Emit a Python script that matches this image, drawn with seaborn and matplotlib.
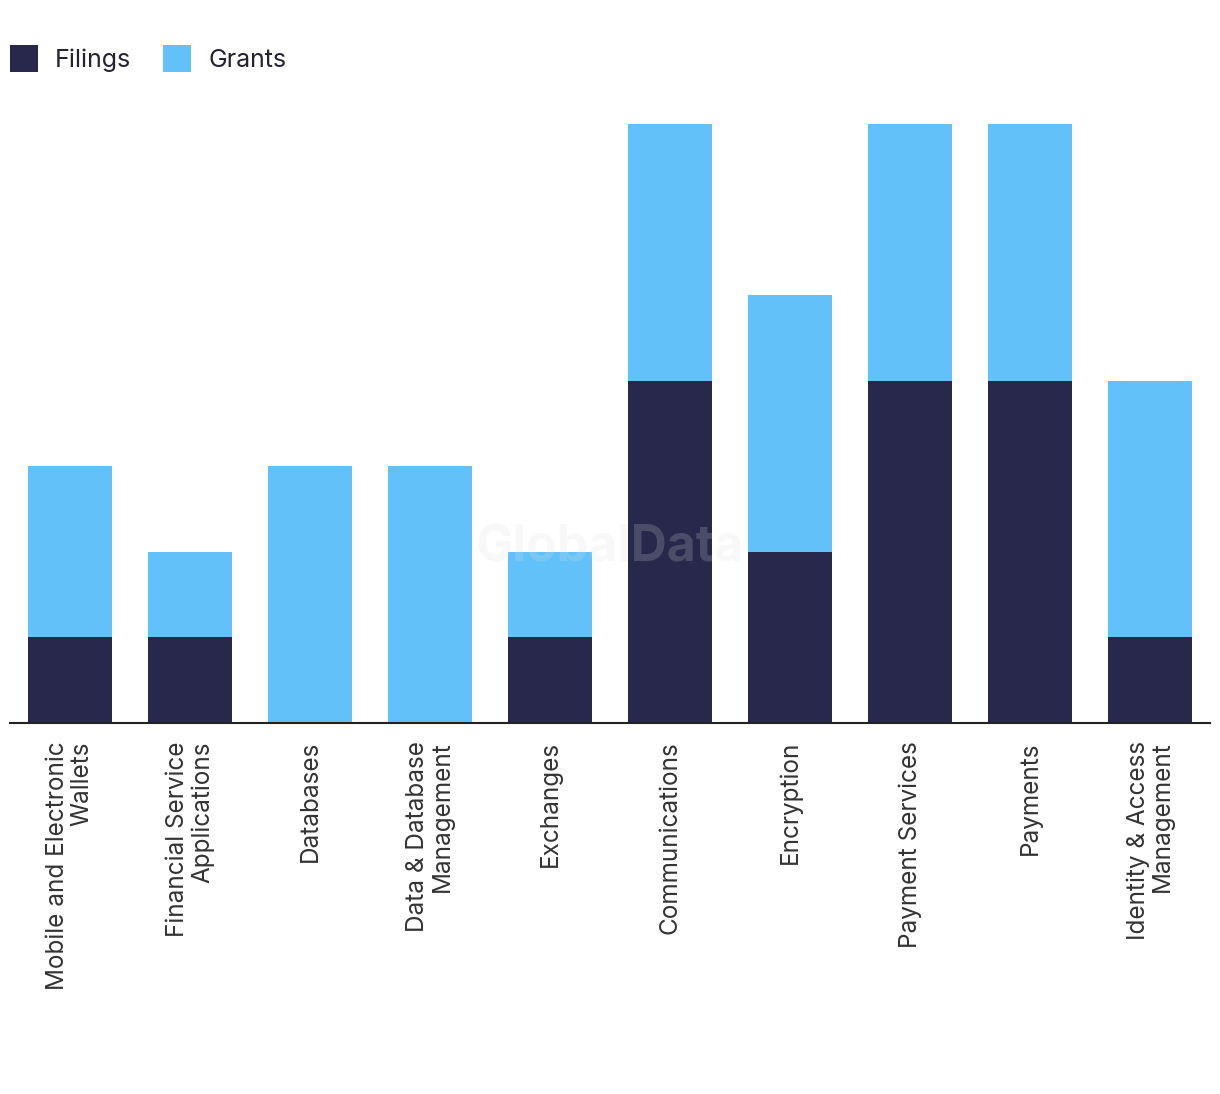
import matplotlib
matplotlib.use("Agg")
import matplotlib.pyplot as plt
import seaborn as sns
import pandas as pd
from matplotlib.patches import Patch

categories = ["Mobile and Electronic\nWallets", "Financial Service\nApplications", "Databases",
              "Data & Database\nManagement", "Exchanges", "Communications", "Encryption",
              "Payment Services", "Payments", "Identity & Access\nManagement"]
filings = [1, 1, 0, 0, 1, 4, 2, 4, 4, 1]
grants = [2, 1, 3, 3, 1, 3, 3, 3, 3, 3]

dark = "#27284b"
light = "#62c1f8"

sns.set_theme(style="white")
plt.rcParams['font.family'] = ['Inter', 'DejaVu Sans']

df = pd.DataFrame({"cat": categories, "filings": filings, "grants": grants})
df["total"] = df["filings"] + df["grants"]

fig = plt.figure(figsize=(12.2, 10.94), dpi=100)
ax = fig.add_axes([10/1220, 371/1094, 1200/1220, (723-124)/1094])

sns.barplot(data=df, x="cat", y="total", color=light, saturation=1, width=0.7, ax=ax,
            zorder=2, linewidth=0, edgecolor="none")
sns.barplot(data=df, x="cat", y="filings", color=dark, saturation=1, width=0.7, ax=ax,
            zorder=3, linewidth=0, edgecolor="none")

ax.set_xlim(-0.5, len(categories) - 0.5)
ax.set_ylim(0, 7)
ax.set_xlabel("")
ax.set_ylabel("")
ax.set_yticks([])
for s in ["top", "right", "left"]:
    ax.spines[s].set_visible(False)
ax.spines["bottom"].set_color("#222222")
ax.spines["bottom"].set_linewidth(1.5)
ax.spines["bottom"].set_zorder(5)
ax.tick_params(axis="x", length=0, pad=13)
ax.set_xticks(range(len(categories)))
ax.set_xticklabels(categories, rotation=90, ha="center", va="top", multialignment="right",
                   fontsize=17.5, color="#333333", linespacing=1.08)

handles = [Patch(facecolor=dark, edgecolor="none", label="Filings"),
           Patch(facecolor=light, edgecolor="none", label="Grants")]
fig.legend(handles=handles, loc="upper left", bbox_to_anchor=(10/1220, 1 - 45/1094), frameon=False,
           ncol=2, fontsize=18, handlelength=1.12, handleheight=1.3, handletextpad=0.68,
           columnspacing=1.28, labelcolor="#222233", borderaxespad=0, borderpad=0)

fig.text(610/1220, 1 - 548/1094, "GlobalData", ha="center", va="center", fontsize=36,
         fontweight="bold", color="#e0e0e0", alpha=0.2, zorder=10)

fig.savefig("out.png", dpi=100, facecolor="white")
